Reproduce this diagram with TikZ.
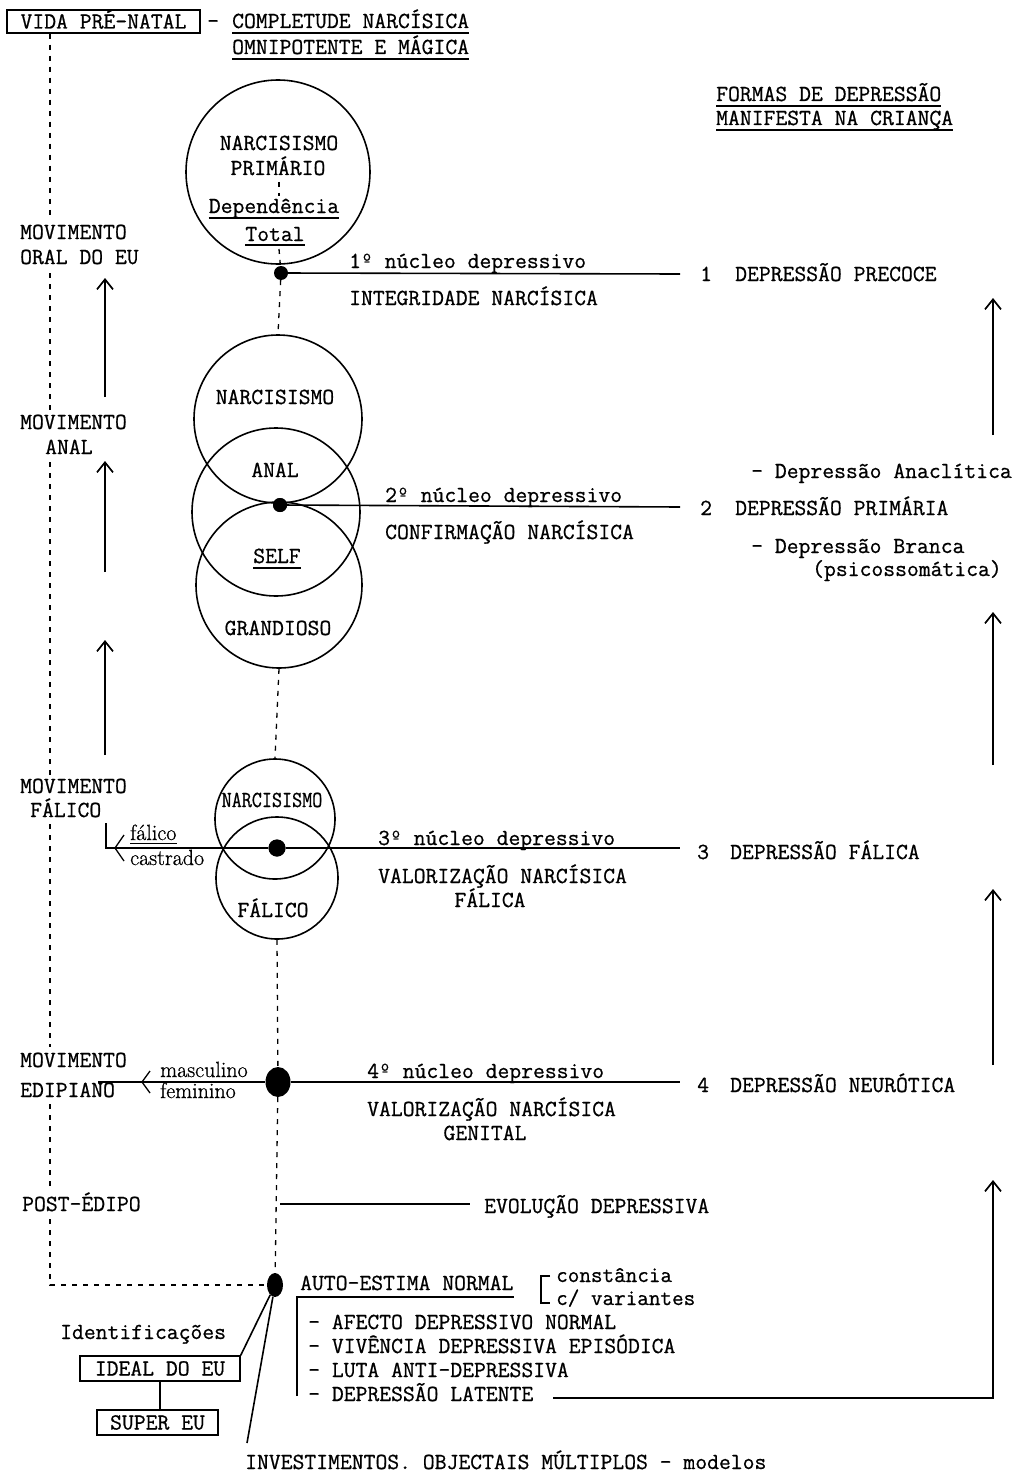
\documentclass[tikz,border=0pt]{standalone}
\usepackage{fontspec}
\usepackage{graphicx}
\setmonofont{Latin Modern Mono}[FakeBold=0.7]
\setmainfont{Latin Modern Roman}[FakeBold=0.7]
\usetikzlibrary{calc,arrows.meta,shapes.geometric}
\newcommand\ulin[2][5]{\draw[ln] ($(#2.base west)+(0,#1)$) -- ($(#2.base east)+(0,#1)$);}
\begin{document}
\begin{tikzpicture}[x=1pt,y=-1pt,
  ln/.style={line width=1.6pt},
  dsh/.style={line width=1.3pt, dash pattern=on 5pt off 6pt},
  tt/.style={font=\ttfamily\fontsize{23}{26}\selectfont, inner sep=0pt},
  tts/.style={font=\ttfamily\fontsize{22.5}{24}\selectfont, inner sep=0pt},
  rmt/.style={font=\rmfamily\fontsize{22}{24}\selectfont, inner sep=0pt},
  lab/.style={tt, anchor=base west},
  ring/.style={draw, circle, line width=1.6pt, inner sep=0pt},
  dot/.style={fill, ellipse, inner sep=0pt},
  box/.style={draw, line width=1.5pt, inner sep=0pt, text height=14pt, text depth=0pt},
  up/.style={line width=1.7pt, -{Straight Barb[length=10pt,width=16pt]}},
]
\useasboundingbox (0,0) rectangle (1019,1474);
\fill[white] (0,0) rectangle (1019,1474);

% ---------- top
\node[tt, box, minimum width=193pt, minimum height=23pt] (vida) at (103.5,21.5) {VIDA PRÉ-NATAL};
\node[tt, anchor=base west] (dash0) at (207,28) {-};
\node[tt, anchor=base west] (compl) at (232,28) {COMPLETUDE NARCÍSICA};
\node[tt, anchor=base west] (omni) at (232,54) {OMNIPOTENTE E MÁGICA};
\ulin{compl} \ulin{omni}

\node[tt, anchor=base west] (formas) at (716,101) {FORMAS DE DEPRESSÃO};
\node[tt, anchor=base west] (manif) at (716,125) {MANIFESTA NA CRIANÇA};
\ulin{formas} \ulin{manif}

% ---------- dots
\node[dot, minimum width=14pt, minimum height=14pt] (d1) at (281,273) {};
\node[dot, minimum width=14pt, minimum height=14pt] (d2) at (280,505) {};
\node[dot, minimum width=17pt, minimum height=17pt] (d3) at (277,848) {};
\node[dot, minimum width=25pt, minimum height=30pt] (d4) at (278,1082) {};
\node[dot, minimum width=16pt, minimum height=24pt] (d5) at (275,1285) {};

% ---------- left dashed line (interrupted by the labels)
\coordinate (L1) at (50,1285);
\coordinate (La) at (50,217);  \coordinate (Lb) at (50,273);
\coordinate (Lc) at (50,410);  \coordinate (Ld) at (50,462);
\coordinate (Le) at (50,775);  \coordinate (Lf) at (50,824);
\coordinate (Lg) at (50,1047); \coordinate (Lh) at (50,1104);
\coordinate (Li) at (50,1190); \coordinate (Lj) at (50,1219);
\draw[dsh] (vida.south -| L1) -- (La);
\draw[dsh] (Lb) -- (Lc);
\draw[dsh] (Ld) -- (Le);
\draw[dsh] (Lf) -- (Lg);
\draw[dsh] (Lh) -- (Li);
\draw[dsh] (Lj) -- (L1) -- (d5);

% ---------- left labels
\node[lab] (mo1) at (20,239) {MOVIMENTO};
\node[lab] (mo1b) at (20,264) {ORAL DO EU};
\node[lab] (mo2) at (20,429) {MOVIMENTO};
\node[lab] (mo2b) at (45,454) {ANAL};
\node[lab] (mo3) at (20,793) {MOVIMENTO};
\node[lab] (mo3b) at (30,817) {FÁLICO};
\node[lab] (mo4) at (20,1067) {MOVIMENTO};
\node[lab] (mo4b) at (20,1097) {EDIPIANO};
\node[lab] (post) at (22,1211) {POST-ÉDIPO};

% left up arrows
\coordinate (la1s) at (105,397); \coordinate (la1e) at (105,278);
\coordinate (la2s) at (105,572); \coordinate (la2e) at (105,461);
\coordinate (la3s) at (105,755); \coordinate (la3e) at (105,640);
\draw[up] (la1s) -- (la1e);
\draw[up] (la2s) -- (la2e);
\draw[up] (la3s) -- (la3e);

% right up arrows
\coordinate (ra1s) at (993,435); \coordinate (ra1e) at (993,298);
\coordinate (ra2s) at (993,765); \coordinate (ra2e) at (993,612);
\coordinate (ra3s) at (993,1065); \coordinate (ra3e) at (993,889);
\draw[up] (ra1s) -- (ra1e);
\draw[up] (ra2s) -- (ra2e);
\draw[up] (ra3s) -- (ra3e);

% ---------- circle 1
\node[ring, minimum size=184pt] (c1) at (278,172) {};
\node[tt, anchor=base] (c1a) at (279,150) {NARCISISMO};
\node[tt, anchor=base] (c1b) at (278,175) {PRIMÁRIO};
\node[tt, anchor=base] (c1c) at (274,213) {Dependência};
\node[tt, anchor=base] (c1d) at (275,241) {Total};
\ulin{c1c} \ulin[4]{c1d}
\coordinate (cd1) at (279,182); \coordinate (cd2) at (279,196); \coordinate (cd3) at (279,249);
\draw[dsh] (cd1) -- (cd2);
\draw[dsh] (cd3) -- (d1);

\coordinate (e1) at (680,274);
\draw[ln] (d1) -- (e1);
\node[tt, anchor=base west] (n1) at (349,268) {1º núcleo depressivo};
\node[tt, anchor=base west] (i1) at (349,305) {INTEGRIDADE NARCÍSICA};
\node[tt, anchor=base west] (k1) at (700,281) {1};
\node[tt, anchor=base west] (dep1) at (735,281) {DEPRESSÃO PRECOCE};

% ---------- anal circles
\node[ring, minimum size=168pt] (c2) at (278,419) {};
\node[ring, minimum size=168pt] (c3) at (276,512) {};
\node[ring, minimum size=166pt] (c4) at (279,585) {};
\draw[dsh] (d1) -- (c2.north);
\node[tt, anchor=base] (c2a) at (275,404) {NARCISISMO};
\node[tt, anchor=base] (c2b) at (275,477) {ANAL};
\node[tt, anchor=base] (c2c) at (277,563) {SELF};
\node[tt, anchor=base] (c2d) at (278,635) {GRANDIOSO};
\ulin{c2c}
\node[dot, minimum width=14pt, minimum height=14pt] at (d2) {};

\coordinate (e2) at (680,507);
\draw[ln] (d2) -- (e2);
\node[tt, anchor=base west] (n2) at (385,502) {2º núcleo depressivo};
\node[tt, anchor=base west] (i2) at (385,539) {CONFIRMAÇÃO NARCÍSICA};
\node[tt, anchor=base west] (k2) at (700,515) {2};
\node[tt, anchor=base west] (dep2) at (735,515) {DEPRESSÃO PRIMÁRIA};
\node[tt, anchor=base west] (ana) at (751,478) {- Depressão Anaclítica};
\node[tt, anchor=base west] (bra) at (751,553) {- Depressão Branca};
\node[tt, anchor=base west] (psi) at (812,576) {(psicossomática)};

% ---------- phallic circles
\node[ring, minimum size=120pt] (c5) at (275,819) {};
\node[ring, minimum size=122pt] (c6) at (277,878) {};
\draw[dsh] (c4.south) -- (c5.north);
\node[tt, anchor=base] (c5a) at (272,807) {\scalebox{0.85}[1]{NARCISISMO}};
\node[tt, anchor=base] (c6a) at (273,917) {FÁLICO};
\node[dot, minimum width=17pt, minimum height=17pt] at (d3) {};

\coordinate (b3) at (106,823); \coordinate (b3c) at (106,848); \coordinate (e3) at (680,848);
\draw[ln] (b3) -- (b3c) -- (d3);
\draw[ln] (d3) -- (e3);
\coordinate (ch3a) at (124,835); \coordinate (ch3b) at (115,848); \coordinate (ch3c) at (124,861);
\draw[line width=1.3pt] (ch3a) -- (ch3b) -- (ch3c);
\node[rmt, anchor=base west] (fal) at (130,840) {fálico};
\draw[line width=1.3pt] ($(fal.base west)+(0,3.5)$) -- ($(fal.base east)+(0,3.5)$);
\node[rmt, anchor=base west] (cas) at (130,865) {castrado};

\node[tt, anchor=base west] (n3) at (378,845) {3º núcleo depressivo};
\node[tt, anchor=base west] (i3) at (378,883) {VALORIZAÇÃO NARCÍSICA};
\node[tt, anchor=base] (i3b) at (490,907) {FÁLICA};
\node[tt, anchor=base west] (k3) at (697,859) {3};
\node[tt, anchor=base west] (dep3) at (730,859) {DEPRESSÃO FÁLICA};

% ---------- oedipal
\draw[dsh] (c6.south) -- (d4);
\coordinate (b4) at (98,1082); \coordinate (e4) at (680,1082);
\draw[ln] (b4) -- (d4);
\draw[ln] (d4) -- (e4);
\coordinate (ch4a) at (150,1071); \coordinate (ch4b) at (142,1082); \coordinate (ch4c) at (150,1093);
\draw[line width=1.3pt] (ch4a) -- (ch4b) -- (ch4c);
\node[rmt, anchor=base west] (masc) at (160,1077) {masculino};
\node[rmt, anchor=base west] (fem) at (160,1098) {feminino};

\node[tt, anchor=base west] (n4) at (367,1078) {4º núcleo depressivo};
\node[tt, anchor=base west] (i4) at (367,1116) {VALORIZAÇÃO NARCÍSICA};
\node[tt, anchor=base] (i4b) at (485,1140) {GENITAL};
\node[tt, anchor=base west] (k4) at (697,1092) {4};
\node[tt, anchor=base west] (dep4) at (730,1092) {DEPRESSÃO NEURÓTICA};

% ---------- post-oedipal
\draw[dsh] (d4) -- (d5);
\coordinate (ev0) at (280,1204); \coordinate (ev1) at (470,1204);
\draw[ln] (ev0) -- (ev1);
\node[tt, anchor=base west] (evl) at (484,1213) {EVOLUÇÃO DEPRESSIVA};

% ---------- bottom
\node[tt, anchor=base west] (auto) at (300,1290) {AUTO-ESTIMA NORMAL};
\coordinate (br0) at (297,1297); \coordinate (br1) at (297,1396);
\draw[ln] (br1) -- (br0) -- ($(auto.base east)+(0,7)$);
\coordinate (sq1) at (550,1276); \coordinate (sq2) at (541,1276); \coordinate (sq3) at (541,1303); \coordinate (sq4) at (550,1303);
\draw[ln] (sq1) -- (sq2) -- (sq3) -- (sq4);
\node[tts, anchor=base west] (const) at (556,1282) {constância};
\node[tts, anchor=base west] (var) at (556,1305) {c/ variantes};

\node[tt, anchor=base west] (it1) at (308,1329) {- AFECTO DEPRESSIVO NORMAL};
\node[tt, anchor=base west] (it2) at (308,1353) {- VIVÊNCIA DEPRESSIVA EPISÓDICA};
\node[tt, anchor=base west] (it3) at (308,1377) {- LUTA ANTI-DEPRESSIVA};
\node[tt, anchor=base west] (lat) at (308,1401) {- DEPRESSÃO LATENTE};
\coordinate (lt0) at (553,1398); \coordinate (lt1) at (993,1398); \coordinate (lt2) at (993,1180);
\draw[up] (lt0) -- (lt1) -- (lt2);

\node[tt, anchor=base west] (ident) at (60,1339) {Identificações};
\node[tt, box, minimum width=160pt, minimum height=25pt] (ideal) at (160,1368.5) {IDEAL DO EU};
\node[tt, box, minimum width=121pt, minimum height=25pt] (super) at (157.5,1422.5) {SUPER EU};
\draw[ln] (ideal.south) -- (ideal.south |- super.north);
\draw[ln] (d5) -- (ideal.north east);
\coordinate (inv0) at (247,1443);
\draw[ln] (d5) -- (inv0);
\node[tt, anchor=base west] (inv) at (245,1469) {INVESTIMENTOS. OBJECTAIS MÚLTIPLOS - modelos};
\end{tikzpicture}
\end{document}
